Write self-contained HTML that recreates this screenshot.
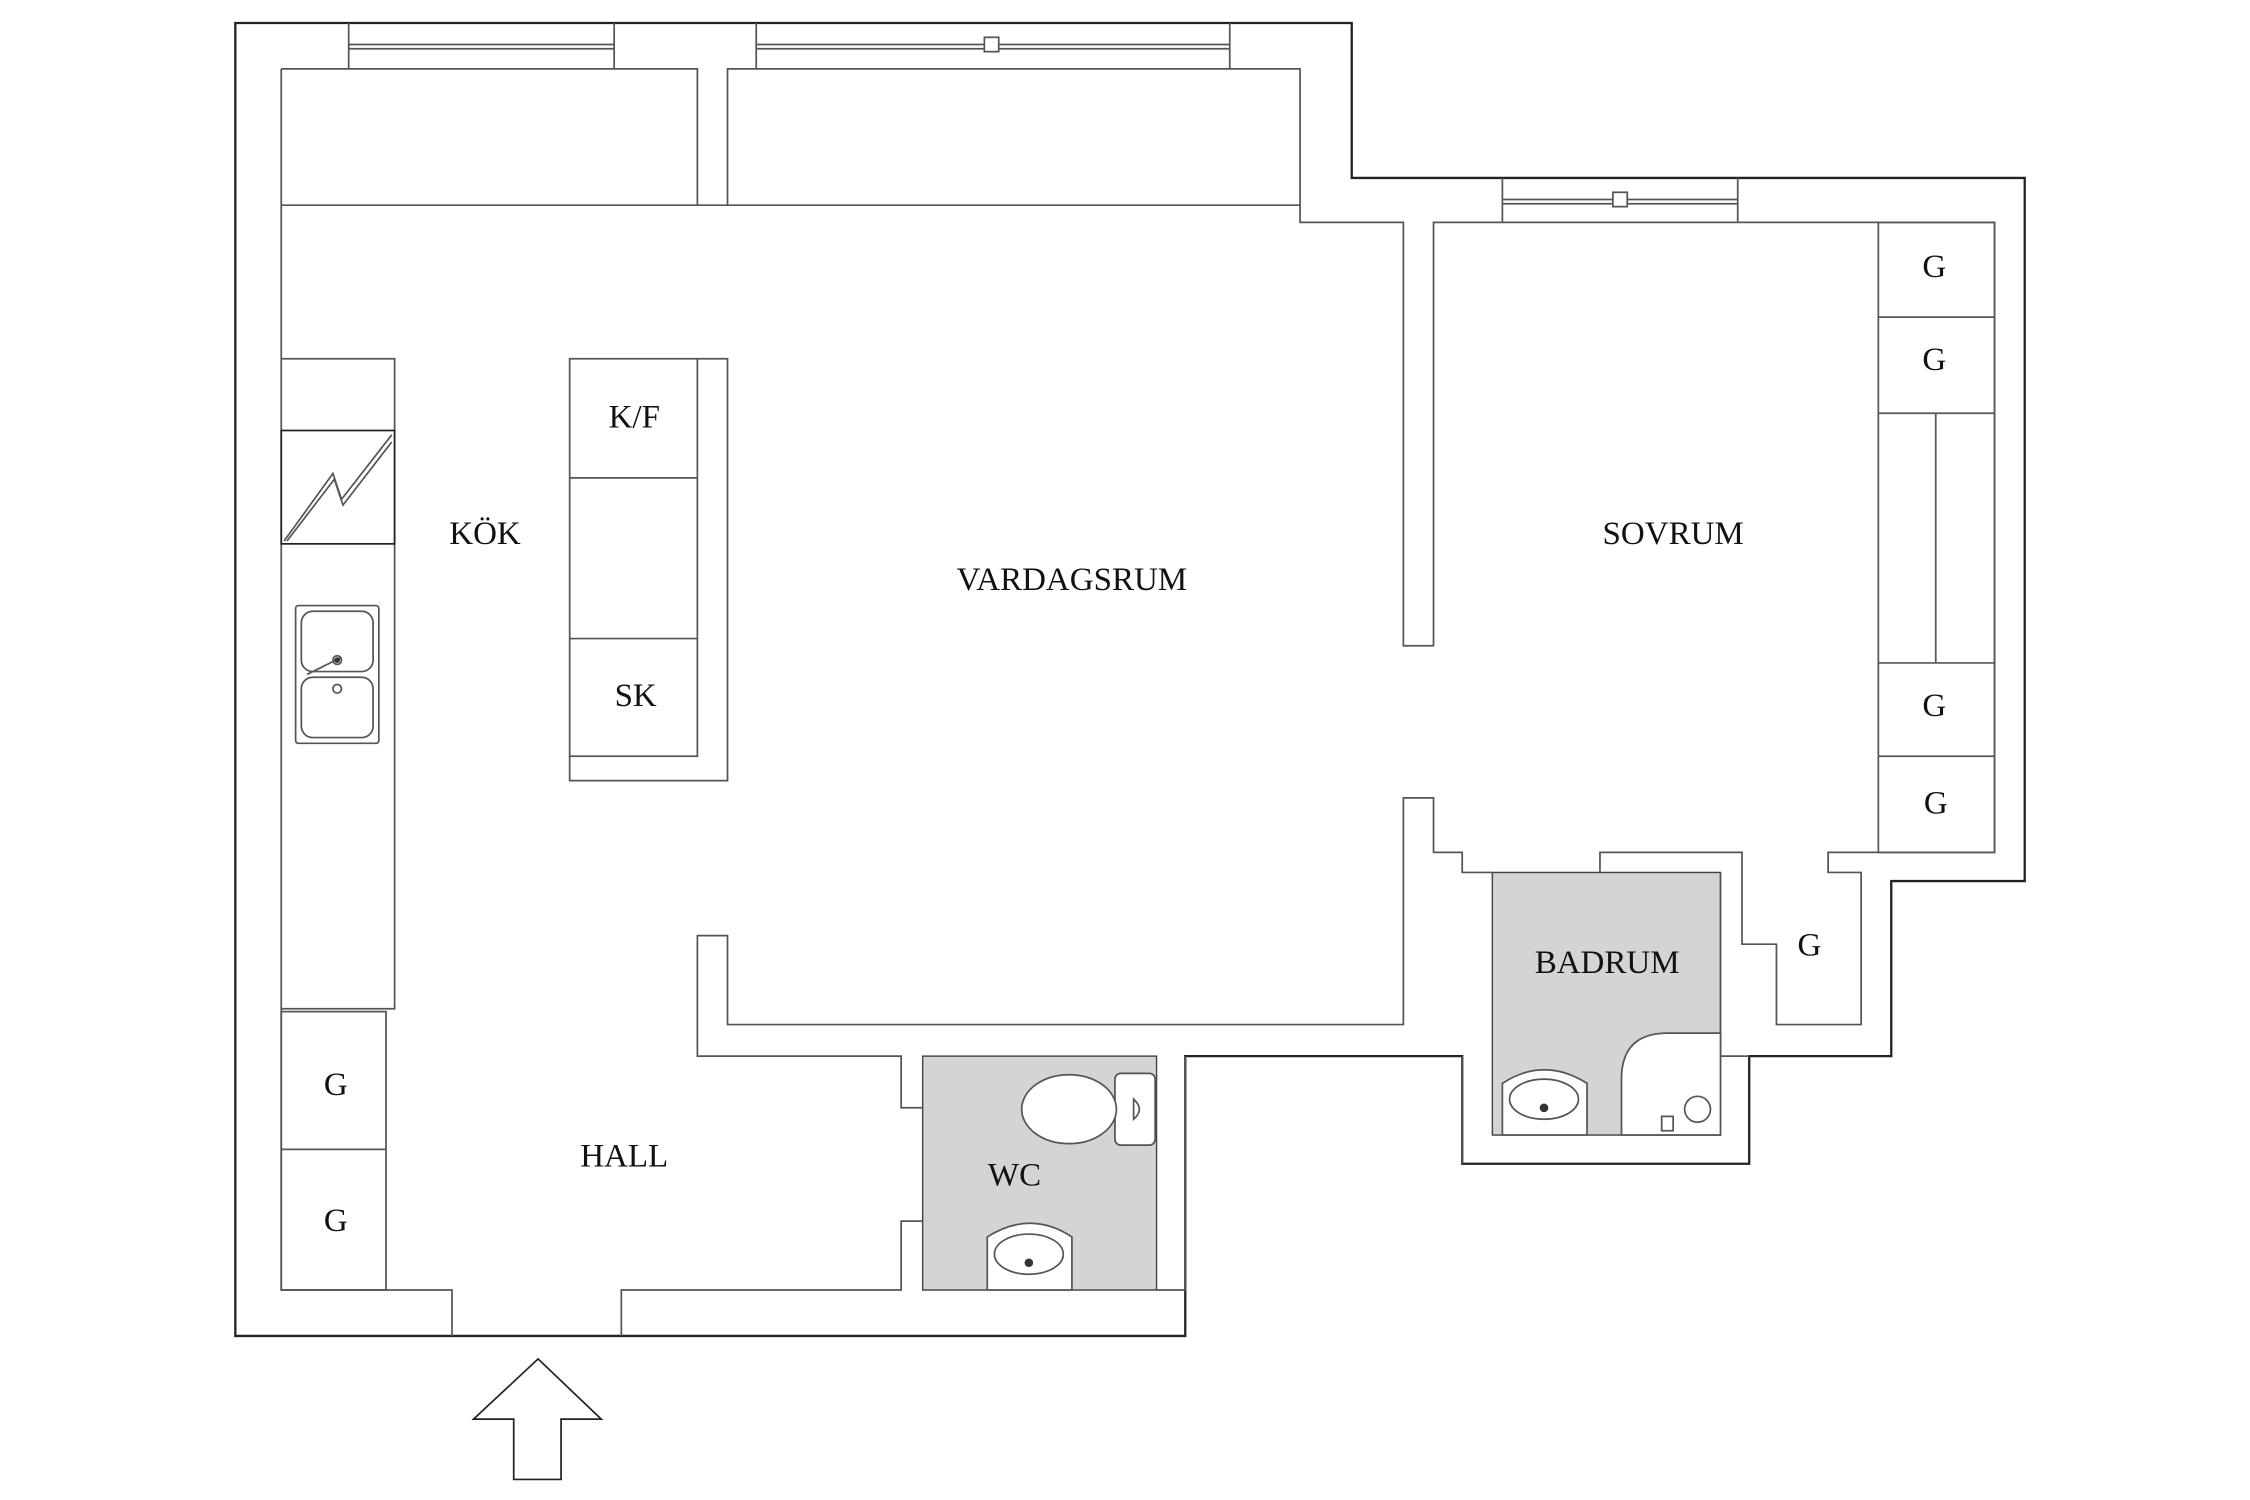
<!DOCTYPE html>
<html><head><meta charset="utf-8"><style>
html,body{margin:0;padding:0;background:#fff;}
svg{display:block;}
text{font-family:"Liberation Serif",serif;font-size:23px;fill:#111;text-anchor:middle;}
</style></head><body>
<svg width="2250" height="1500" viewBox="0 0 1568 1045.33" xmlns="http://www.w3.org/2000/svg">
<g fill="none" stroke="#222" stroke-width="1.6">
<path d="M164,16 H942 V124 H1411 V614 H1318 V736 H1219 V811 H1019 V736 H826 V931 H164 Z"/>
</g>
<rect x="643" y="736" width="163" height="163" fill="#d4d4d4" stroke="#444" stroke-width="1"/>
<rect x="1040" y="608" width="159" height="183" fill="#d4d4d4" stroke="#444" stroke-width="1"/>
<g fill="none" stroke="#555" stroke-width="1.2">
<path d="M243,16 V48 M428,16 V48 M243,31 H428 M243,34 H428"/>
<path d="M527,16 V48 M857,16 V48 M527,31 H857 M527,34 H857"/>
<rect x="686" y="26" width="10" height="10" fill="#fff"/>
<path d="M1047,124 V155 M1211,124 V155 M1047,139 H1211 M1047,142 H1211"/>
<rect x="1124" y="134" width="10" height="10" fill="#fff"/>
<path d="M196,48 H486 V143 M507,143 V48 H906 V155 H978 V450 H999 V155 H1390 V594 H1274 V608 H1297 V714 H1238 V658 H1214 V594 H1115 V608"/>
<path d="M196,48 V899 H315 V931 M433,931 V899 H628 V851 H643 M643,772 H628 V736 H486 V652 H507 V714 H978 V556 H999 V594 H1019 V608 H1040"/>
<path d="M196,143 H906"/>
<path d="M1199,608 V736 H1219 M1019,736 V811 M826,736 V899 H806"/>
<path d="M196,250 H275 V703 H196"/>
<rect x="196" y="300" width="79" height="79" stroke="#222"/>
<path d="M198,377 L232,330 L238,348 L273,303" />
<path d="M200,377 L233,334 L239,352 L273,308" />
<rect x="206" y="422" width="58" height="96" rx="2"/>
<rect x="210" y="426" width="50" height="42" rx="8"/>
<rect x="210" y="472" width="50" height="42" rx="8"/>
<circle cx="235" cy="460" r="3"/><circle cx="235" cy="480" r="3"/>
<path d="M214,470 L238,458"/>
<rect x="196" y="705" width="73" height="194"/>
<path d="M196,801 H269"/>
<rect x="397" y="250" width="89" height="277"/>
<path d="M397,333 H486 M397,445 H486 M486,250 H507 V544 H397 V527"/>
<rect x="1309" y="155" width="81" height="439"/>
<path d="M1309,221 H1390 M1309,288 H1390 M1309,462 H1390 M1309,527 H1390 M1349,288 V462"/>
<rect x="777" y="748" width="28" height="50" rx="4" fill="#fff"/>
<ellipse cx="745" cy="773" rx="33" ry="24" fill="#fff"/>
<path d="M790,766 Q798,773 790,780 Z"/>
<path d="M688,899 V862 Q718,843 747,862 V899 Z" fill="#fff"/>
<ellipse cx="717" cy="874" rx="24" ry="14"/>
<path d="M1047,791 V755 Q1076,736 1106,755 V791 Z" fill="#fff"/>
<ellipse cx="1076" cy="766" rx="24" ry="14"/>
<path d="M1130,791 V752 Q1130,720 1162,720 H1199 V791 Z" fill="#fff"/>
<circle cx="1183" cy="773" r="9"/>
<rect x="1158" y="778" width="8" height="10"/>
<polygon points="330,989 375,947 419,989 391,989 391,1031 358,1031 358,989" stroke="#222"/>
</g>
<g fill="#333"><circle cx="717" cy="880" r="3"/><circle cx="1076" cy="772" r="3"/><circle cx="235" cy="460" r="2"/></g>
<text x="442" y="298">K/F</text>
<text x="443" y="492">SK</text>
<text x="338" y="379">KÖK</text>
<text x="747" y="411">VARDAGSRUM</text>
<text x="1166" y="379">SOVRUM</text>
<text x="1120" y="678">BADRUM</text>
<text x="707" y="826">WC</text>
<text x="435" y="813">HALL</text>
<text x="234" y="763">G</text>
<text x="234" y="858">G</text>
<text x="1348" y="193">G</text>
<text x="1348" y="258">G</text>
<text x="1348" y="499">G</text>
<text x="1349" y="567">G</text>
<text x="1261" y="666">G</text>
</svg>
</body></html>
